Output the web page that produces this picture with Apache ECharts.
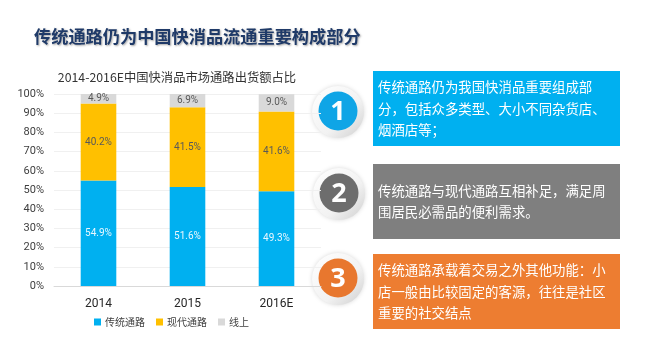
<!DOCTYPE html>
<html><head><meta charset="utf-8">
<script src="https://cdn.jsdelivr.net/npm/echarts@6/dist/echarts.min.js"></script>
<style>html,body{margin:0;padding:0;background:#fff}#c{width:660px;height:357px}</style>
</head><body><div id="c"></div>
<script>
var categories = ['2014', '2015', '2016E'];
var traditional = [54.9, 51.6, 49.3];
var modern = [40.2, 41.5, 41.6];
var online = [4.9, 6.9, 9.0];
var seriesNames = ['传统通路', '现代通路', '线上'];
var yTicks = [0, 10, 20, 30, 40, 50, 60, 70, 80, 90, 100];

var FONT = '"Noto Sans CJK SC", "Microsoft YaHei", sans-serif';
var chart = echarts.init(document.getElementById('c'));

function box(y, h, color, text) {
  return [
    { type: 'rect', shape: { x: 373, y: y, width: 247, height: h }, style: { fill: color } },
    { type: 'text', x: 378, y: y + h / 2, style: { text: text, fill: '#ffffff', font: '13.4px ' + FONT, lineHeight: 21.5, verticalAlign: 'middle' } }
  ];
}
function badge(cx, cy, color, num) {
  return [
    { type: 'circle', shape: { cx: cx, cy: cy + 1, r: 26 }, style: { fill: new echarts.graphic.LinearGradient(0, 0, 1, 1, [{ offset: 0, color: '#ffffff' }, { offset: 0.6, color: '#f2f2f2' }, { offset: 1, color: '#cfcfcf' }]), shadowBlur: 4, shadowColor: 'rgba(0,0,0,0.15)' } },
    { type: 'circle', shape: { cx: cx, cy: cy, r: 19.5 }, style: { fill: color } },
    { type: 'text', x: cx, y: cy + 1, style: { text: num, fill: '#ffffff', font: 'bold 27px "Open Sans", Arial, sans-serif', align: 'center', verticalAlign: 'middle' } }
  ];
}

var graphics = [].concat(
  box(71, 75, '#00b0f0', '传统通路仍为我国快消品重要组成部\n分，包括众多类型、大小不同杂货店、\n烟酒店等；'),
  box(164, 75, '#7f7f7f', '传统通路与现代通路互相补足，满足周\n围居民必需品的便利需求。'),
  box(254, 75, '#ed7d31', '传统通路承载着交易之外其他功能：小\n店一般由比较固定的客源，往往是社区\n重要的社交结点'),
  badge(338, 111, '#0fa5e6', '1'),
  badge(339, 193, '#6d6d6d', '2'),
  badge(338, 278, '#e8772e', '3')
);

function labelOpt(color) {
  return { show: true, position: 'inside', color: color, fontSize: 10, fontFamily: 'Roboto, sans-serif', formatter: function (p) { return p.value.toFixed(1) + '%'; } };
}

chart.setOption({
  animation: false,
  title: [
    { text: '传统通路仍为中国快消品流通重要构成部分', left: 34, top: 28, padding: 0, textStyle: { fontFamily: FONT, fontSize: 17.2, fontWeight: 'bold', color: '#1f3a68', textShadowColor: 'rgba(0,0,0,0.35)', textShadowBlur: 2, textShadowOffsetX: 1, textShadowOffsetY: 1 } },
    { text: '2014-2016E中国快消品市场通路出货额占比', left: 172, top: 66, textAlign: 'center', textStyle: { fontFamily: FONT, fontSize: 12.3, fontWeight: 'normal', color: '#333333' } }
  ],
  legend: {
    data: seriesNames, left: 94, top: 317, padding: 0, itemWidth: 7, itemHeight: 7, itemGap: 11, icon: 'rect',
    textStyle: { fontFamily: FONT, fontSize: 10, color: '#404040', padding: [0, 0, 0, -1] }
  },
  grid: { left: 54, right: 339, top: 94, bottom: 71 },
  xAxis: {
    type: 'category', data: categories,
    axisLine: { lineStyle: { color: '#d9d9d9' } }, axisTick: { show: false },
    axisLabel: { fontFamily: 'Roboto, sans-serif', fontSize: 12, color: '#262626', margin: 12 }
  },
  yAxis: {
    type: 'value', min: yTicks[0], max: yTicks[yTicks.length - 1], interval: 10,
    axisLabel: { formatter: '{value}%', fontFamily: 'Roboto, sans-serif', fontSize: 11, color: '#404040', margin: 10 },
    splitLine: { lineStyle: { color: '#f0f0f0' } }, axisLine: { show: false }, axisTick: { show: false }
  },
  series: [
    { name: seriesNames[0], type: 'bar', stack: 't', barWidth: '40%', data: traditional, itemStyle: { color: '#00b0f0' }, label: labelOpt('#e8f7ff') },
    { name: seriesNames[1], type: 'bar', stack: 't', data: modern, itemStyle: { color: '#ffc000' }, label: labelOpt('#595959') },
    { name: seriesNames[2], type: 'bar', stack: 't', data: online, itemStyle: { color: '#d9d9d9' }, label: labelOpt('#595959') }
  ],
  graphic: graphics
});
</script></body></html>
